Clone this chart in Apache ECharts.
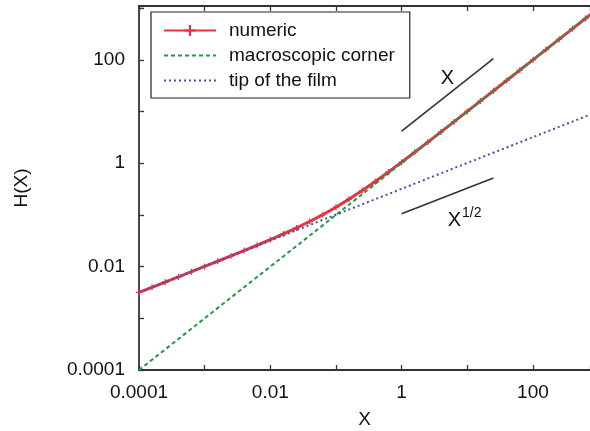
<!DOCTYPE html>
<html>
<head>
<meta charset="utf-8">
<script src="https://cdn.jsdelivr.net/npm/echarts@6/dist/echarts.min.js"></script>
<style>
  html, body { margin: 0; padding: 0; background: #fff; }
  #chart { width: 590px; height: 431px; }
</style>
</head>
<body>
<div id="chart"></div>
<script>
// tick labels (every second decade is labelled)
const tickExps = [-4, -2, 0, 2];
const tickLabels = ["0.0001", "0.01", "1", "100"];

// numeric solution
const xNumeric = [0.0001, 0.000158, 0.000251, 0.000398, 0.000631, 0.001, 0.00158, 0.00251, 0.00398, 0.00631,
  0.01, 0.0158, 0.0251, 0.0398, 0.0631, 0.1, 0.158, 0.251, 0.398, 0.631,
  1, 1.58, 2.51, 3.98, 6.31, 10, 15.8, 25.1, 39.8, 63.1, 100, 158, 251, 398, 631, 1000];
const hNumeric = [0.00316, 0.00398, 0.00502, 0.00632, 0.00797, 0.0101, 0.0127, 0.0161, 0.0204, 0.0259,
  0.0332, 0.0429, 0.0561, 0.0746, 0.101, 0.141, 0.202, 0.297, 0.445, 0.679,
  1.05, 1.63, 2.56, 4.03, 6.36, 10.05, 15.9, 25.2, 39.9, 63.2, 100, 158, 251, 398, 631, 1000];

// asymptotes
const xCorner = [0.0001, 1000];
const hCorner = [0.0001, 1000];
const xTip = [0.0001, 1000];
const hTip = [0.0032, 10.1];

// slope guides
const xGuide = [1, 25];
const hGuideX = [4.2, 105];
const hGuideHalf = [0.105, 0.52];

const zip = (a, b) => a.map((v, i) => [v, b[i]]);

const FONT = "Liberation Sans";
const AXIS = "#333";

function fmt(v) {
  const e = Math.round(Math.log10(v));
  const i = tickExps.indexOf(e);
  return i >= 0 ? tickLabels[i] : "";
}

const logAxis = (extra) => Object.assign({
  type: "log",
  logBase: 10,
  min: 0.0001,
  max: 1000,
  interval: 1,
  axisLine: { show: true, onZero: false, lineStyle: { color: AXIS, width: 1.8 } },
  axisTick: { show: true, inside: true, length: 5, lineStyle: { color: AXIS, width: 1.3 } },
  splitLine: { show: false },
  minorTick: { show: false },
  axisLabel: { show: true, formatter: fmt, color: "#111", fontFamily: FONT, fontSize: 19 },
}, extra);

const chart = echarts.init(document.getElementById("chart"), null, { renderer: "canvas" });

const plus = "path://M4,0h2v4h4v2h-4v4h-2v-4h-4v-2h4z";

chart.setOption({
  animation: false,
  backgroundColor: "#fff",
  grid: { left: 139, top: 6, right: 0, bottom: 61, containLabel: false, outerBoundsMode: "none" },
  legend: {
    orient: "vertical",
    left: 151,
    top: 12,
    padding: [9, 15, 8, 12],
    itemWidth: 52,
    itemHeight: 14,
    itemGap: 6,
    borderColor: "#222",
    borderWidth: 1.2,
    borderRadius: 0,
    backgroundColor: "#fff",
    data: [
      { name: "numeric" },
      { name: "macroscopic corner", itemStyle: { opacity: 0 } },
      { name: "tip of the film", itemStyle: { opacity: 0 } },
    ],
    textStyle: { fontFamily: FONT, fontSize: 19, color: "#111", padding: [0, 0, 0, 8] },
  },
  xAxis: [
    logAxis({
      max: 740,
      position: "bottom",
      name: "X",
      nameLocation: "middle",
      nameGap: 40,
      nameTextStyle: { fontFamily: FONT, fontSize: 19, color: "#111" },
      axisLabel: { show: true, formatter: fmt, color: "#111", fontFamily: FONT, fontSize: 19, margin: 13 },
    }),
    logAxis({ max: 740, position: "top", axisLabel: { show: false } }),
  ],
  yAxis: [
    logAxis({
      max: 1100,
      position: "left",
      name: "H(X)",
      nameLocation: "middle",
      nameGap: 108,
      nameTextStyle: { fontFamily: FONT, fontSize: 19, color: "#111" },
      axisLabel: { show: true, formatter: fmt, color: "#111", fontFamily: FONT, fontSize: 19, margin: 14 },
    }),
  ],
  series: [
    {
      name: "numeric",
      type: "line",
      data: zip(xNumeric, hNumeric),
      symbol: plus,
      symbolSize: 6,
      showAllSymbol: true,
      lineStyle: { color: "#e3343f", width: 3 },
      itemStyle: { color: "#e3343f" },
      z: 2,
    },
    {
      name: "macroscopic corner",
      type: "line",
      data: zip(xCorner, hCorner),
      symbol: "none",
      lineStyle: { color: "#1f9a45", width: 2, type: [4, 3] },
      itemStyle: { color: "#1f9a45" },
      z: 3,
    },
    {
      name: "tip of the film",
      type: "line",
      data: zip(xTip, hTip),
      symbol: "none",
      lineStyle: { color: "#4153a8", width: 2, type: [2, 3] },
      itemStyle: { color: "#4153a8" },
      z: 4,
    },
    {
      name: "guideX",
      type: "line",
      data: zip(xGuide, hGuideX),
      symbol: "none",
      lineStyle: { color: "#333", width: 1.6 },
      silent: true,
      markPoint: {
        symbol: "circle",
        symbolSize: 0,
        data: [{ coord: [5.0, 43] }],
        label: { show: true, position: "inside", formatter: "X", fontFamily: FONT, fontSize: 20, color: "#111" },
      },
    },
    {
      name: "guideHalf",
      type: "line",
      data: zip(xGuide, hGuideHalf),
      symbol: "none",
      lineStyle: { color: "#333", width: 1.6 },
      silent: true,
      markPoint: {
        symbol: "circle",
        symbolSize: 0,
        data: [{ coord: [9.1, 0.095] }],
        label: {
          show: true,
          position: "inside",
          formatter: "{b|X}{s|1/2}",
          rich: {
            b: { fontFamily: FONT, fontSize: 20, color: "#111", lineHeight: 22, padding: [8, 0, 0, 0] },
            s: { fontFamily: FONT, fontSize: 14, color: "#111", lineHeight: 16, padding: [0, 0, 6, 1] },
          },
        },
      },
    },
  ],
});
</script>
</body>
</html>
